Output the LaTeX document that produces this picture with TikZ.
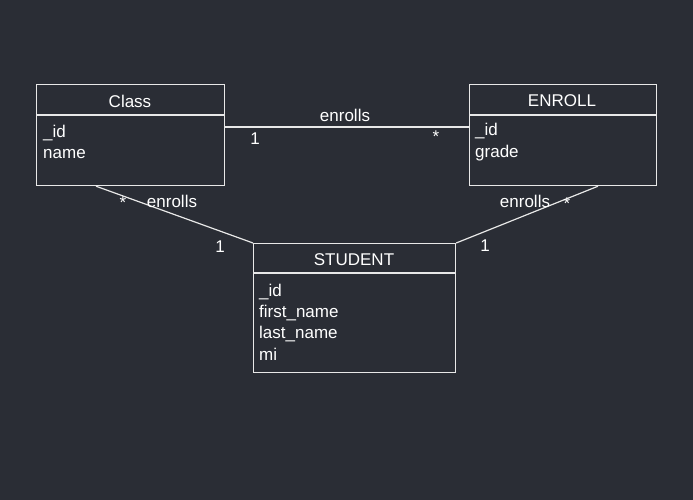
\documentclass[tikz,border=0pt]{standalone}
\usepackage{fontspec}
\setmainfont{Liberation Sans}
\usetikzlibrary{calc}
\definecolor{bg}{HTML}{2A2D35}
\definecolor{ln}{HTML}{E8E8E8}
\begin{document}
\begin{tikzpicture}[x=1pt,y=-1pt,
  every node/.style={font=\fontsize{17}{21.3}\selectfont, text=white, inner sep=0pt},
  box/.style={draw=ln, line width=1.2pt, anchor=north west},
  rel/.style={draw=ln, line width=1.2pt},
  fld/.style={anchor=west, align=left},
  ttl/.style={anchor=center}]
\fill[bg] (0,0) rectangle (693,500);
\useasboundingbox (0,0) rectangle (693,500);
% Class
\node[box, minimum width=188pt, minimum height=101pt] (class) at (36,84) {};
\draw[rel] ($(class.north west)+(0,31)$) -- ($(class.north east)+(0,31)$);
\node[ttl] (classt) at (130,101) {Class};
\node[fld] (classf) at (43,142) {\_id\\name};
% ENROLL
\node[box, minimum width=187pt, minimum height=101pt] (enroll) at (469,84) {};
\draw[rel] ($(enroll.north west)+(0,31)$) -- ($(enroll.north east)+(0,31)$);
\node[ttl] (enrollt) at (562,101) {ENROLL};
\node[fld] (enrollf) at (475,142) {\_id\\grade};
% STUDENT
\node[box, minimum width=202pt, minimum height=129pt] (student) at (253,243) {};
\draw[rel] ($(student.north west)+(0,30)$) -- ($(student.north east)+(0,30)$);
\node[ttl] (studentt) at (354,260) {STUDENT};
\node[fld] (studentf) at (259,322) {\_id\\first\_name\\last\_name\\mi};
% connectors
\draw[rel] ($(class.north east)+(0,43)$) -- ($(enroll.north west)+(0,43)$);
\node (l1) at (345,115) {enrolls};
\node (m1a) at (255,139) {1};
\node (m1b) at (436,137) {*};
\draw[rel] ($(class.south west)+(60,0)$) -- (student.north west);
\node (l2) at (172,201) {enrolls};
\node (m2a) at (123,203) {*};
\node (m2b) at (220,247) {1};
\draw[rel] ($(enroll.south west)+(129,0)$) -- (student.north east);
\node (l3) at (525,201) {enrolls};
\node (m3a) at (567,204) {*};
\node (m3b) at (485,246) {1};
\end{tikzpicture}
\end{document}
